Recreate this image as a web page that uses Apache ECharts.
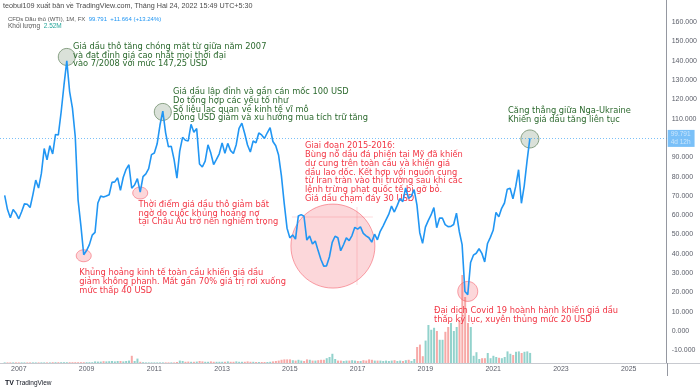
<!DOCTYPE html>
<html><head><meta charset="utf-8">
<script src="https://cdn.jsdelivr.net/npm/echarts@6/dist/echarts.min.js"></script>
<style>html,body{margin:0;padding:0;background:#fff}#c{width:700px;height:392px}</style>
</head><body><div id="c"></div>
<script>
// Monthly closes, CFD WTI (FX), starting Aug 2006
const startYear = 2006, startMonth = 8;
const closes = [
  70.26, 62.91, 58.73, 62.97, 61.05,
  58.14, 61.79, 65.87, 65.71, 64.01, 70.68, 78.21, 74.04, 81.66, 94.53, 88.71, 95.98,
  91.75, 101.84, 101.58, 113.46, 127.35, 140.00, 124.08, 115.46, 100.64, 67.81, 54.43, 39.50,
  41.68, 44.76, 49.66, 51.12, 66.31, 69.89, 69.45, 69.96, 70.61, 77.00, 77.28, 79.36,
  72.89, 79.66, 83.76, 86.15, 73.97, 75.63, 78.95, 71.92, 79.97, 81.43, 84.11, 91.38,
  92.19, 96.97, 106.72, 113.93, 102.70, 95.42, 95.70, 88.81, 79.20, 93.19, 100.36, 98.83,
  98.48, 107.07, 103.02, 104.87, 86.53, 84.96, 88.06, 96.47, 92.19, 86.24, 88.91, 91.82,
  97.49, 92.05, 97.23, 93.46, 91.97, 96.56, 105.03, 107.65, 102.33, 96.38, 92.72, 98.42,
  97.49, 102.59, 101.58, 99.74, 102.71, 105.37, 98.17, 95.96, 91.16, 80.54, 66.15, 53.27,
  48.24, 49.76, 47.60, 59.63, 60.30, 59.47, 47.12, 49.20, 45.09, 46.59, 41.65, 37.04,
  33.62, 33.75, 38.34, 45.92, 49.10, 48.33, 41.60, 44.70, 48.24, 46.86, 49.44, 53.72,
  52.81, 54.01, 50.60, 49.33, 48.32, 46.04, 50.17, 47.23, 51.67, 54.38, 57.40, 60.42,
  64.73, 61.64, 64.94, 68.57, 67.04, 74.15, 68.76, 69.80, 73.25, 65.31, 50.93, 45.41,
  53.79, 57.22, 60.14, 63.91, 53.50, 58.47, 58.58, 55.10, 54.07, 54.18, 55.17, 61.06,
  51.56, 44.76, 20.48, 18.84, 35.49, 39.27, 40.27, 42.61, 40.22, 35.79, 45.34, 48.52,
  52.20, 61.50, 59.16, 63.58, 66.32, 73.47, 73.95, 68.50, 75.03, 83.57, 66.18, 75.21,
  88.13, 99.791
];
// Monthly volume, millions
const volumes = [
  0.15, 0.15, 0.15, 0.15, 0.15,
  0.15, 0.15, 0.15, 0.15, 0.15, 0.15, 0.15, 0.15, 0.15, 0.15, 0.15, 0.15,
  0.2, 0.2, 0.2, 0.2, 0.2, 0.2, 0.2, 0.2, 0.2, 0.2, 0.2, 0.2,
  0.2, 0.2, 0.2, 0.4, 0.35, 0.35, 0.45, 0.4, 0.45, 0.5, 0.4, 0.5,
  0.5, 0.4, 0.5, 0.6, 1.8, 0.5, 1.1, 0.3, 0.2, 0.15, 0.15, 0.15,
  0.15, 0.15, 0.15, 0.15, 0.15, 0.15, 0.15, 0.15, 0.25, 0.6, 0.5, 0.3,
  0.35, 0.3, 0.3, 0.35, 0.5, 0.4, 0.3, 0.3, 0.4, 0.3, 0.3, 0.3,
  0.3, 0.3, 0.4, 0.3, 0.3, 0.4, 0.3, 0.3, 0.3, 0.4, 0.3, 0.3,
  0.25, 0.25, 0.25, 0.25, 0.25, 0.3, 0.4, 0.5, 0.6, 0.8, 0.9, 0.9,
  0.9, 0.7, 0.6, 0.8, 0.6, 0.5, 0.9, 0.8, 0.6, 0.6, 0.7, 0.8,
  0.8, 1.2, 1.5, 2.3, 1.0, 0.6, 0.6, 0.5, 0.6, 0.6, 0.7, 0.6,
  0.5, 0.5, 0.7, 0.6, 0.9, 0.8, 0.6, 0.6, 0.6, 0.5, 0.6, 0.5,
  0.6, 0.7, 0.5, 0.6, 0.5, 0.7, 0.8, 0.5, 1.0, 4.0, 4.6, 1.7,
  5.6, 9.5, 8.3, 8.8, 8.0, 5.8, 5.8, 7.8, 9.0, 10.0, 8.0, 9.0,
  10.8, 22.0, 16.5, 10.0, 9.0, 1.8, 2.7, 1.0, 1.2, 1.2, 2.5, 1.2,
  1.8, 1.5, 1.3, 1.2, 1.5, 2.9, 2.3, 2.0, 2.8, 2.9, 2.5, 2.8,
  2.9, 2.52
];
const priceTicks = [-10, 0, 10, 20, 30, 40, 50, 60, 70, 80, 90, 110, 120, 130, 140, 150, 160];
const yearTicks = [2007, 2009, 2011, 2013, 2015, 2017, 2019, 2021, 2023, 2025];
const lastPrice = 99.791;

const monthX = closes.map((_, i) => startYear + (startMonth - 1 + i) / 12);
const priceData = closes.map((v, i) => [monthX[i], v]);
const volData = volumes.map((v, i) => {
  const up = i === 0 ? true : closes[i] >= closes[i - 1];
  return { value: [monthX[i], v], itemStyle: { color: up ? 'rgba(38,166,154,0.5)' : 'rgba(239,83,80,0.5)' } };
});

const X_MIN = 2006.4454, X_MAX = 2026.121;
const Y_MIN = -16.58, Y_MAX = 171.5;
const axisGray = '#5d606b';
const chart = echarts.init(document.getElementById('c'), null, { renderer: 'canvas' });

const green = '#2d6a2f', red = '#f23645';
const annFont = '8.3px "DejaVu Sans"';

chart.setOption({
  animation: false,
  backgroundColor: '#fff',
  grid: [
    { left: 0, right: 33, top: 0, bottom: 29 },
    { left: 0, right: 33, top: 0, bottom: 29 }
  ],
  xAxis: [
    { type: 'value', gridIndex: 0, min: X_MIN, max: X_MAX,
      axisLine: { show: true, onZero: false, lineStyle: { color: '#c8cad0', width: 1 } },
      axisTick: { show: false }, splitLine: { show: false },
      axisLabel: { customValues: yearTicks, formatter: v => String(Math.round(v)), color: axisGray, fontSize: 7, fontFamily: 'Liberation Sans', margin: 3 } },
    { type: 'value', gridIndex: 1, min: X_MIN, max: X_MAX, show: false }
  ],
  yAxis: [
    { type: 'value', gridIndex: 0, position: 'right', min: Y_MIN, max: Y_MAX,
      axisLine: { show: true, onZero: false, lineStyle: { color: '#9598a1', width: 1 } },
      axisTick: { show: false }, splitLine: { show: false },
      axisLabel: { customValues: priceTicks, formatter: v => v.toFixed(3), color: axisGray, fontSize: 7, fontFamily: 'Liberation Sans', margin: 5, align: 'left' } },
    { type: 'value', gridIndex: 1, min: 0, max: 363 / 4, show: false }
  ],
  series: [
    { type: 'bar', xAxisIndex: 1, yAxisIndex: 1, data: volData, barWidth: 2, z: 1, silent: true },
    { type: 'line', xAxisIndex: 0, yAxisIndex: 0, data: priceData, showSymbol: false, z: 5,
      lineStyle: { color: '#2196f3', width: 1.6 },
      markLine: { silent: true, symbol: 'none',
        lineStyle: { color: '#2196f3', type: [1, 2], width: 1, opacity: 0.6 },
        label: { position: 'end', distance: 1, formatter: lastPrice.toFixed(3) + '\n4d 12h', color: '#fff',
          backgroundColor: '#2196f3', padding: [1, 4, 1, 3], fontSize: 6.5, lineHeight: 7.5, fontFamily: 'Liberation Sans' },
        data: [{ yAxis: lastPrice }] } }
  ]
});

// Annotations
const px = (x, v) => chart.convertToPixel({ xAxisIndex: 0, yAxisIndex: 0 }, [x, v]);
const idx = (y, m) => (y - startYear) * 12 + (m - startMonth);
function circ(x, v, rx, ry, fill, stroke) {
  const p = px(x, v);
  return { type: 'ellipse', shape: { cx: p[0], cy: p[1], rx: rx, ry: ry }, style: { fill: fill, stroke: stroke, lineWidth: 1 }, z: 1 };
}
const gFill = 'rgba(150,170,145,0.35)', gStroke = 'rgba(110,140,105,0.8)';
const rFill = 'rgba(242,54,69,0.2)', rStroke = 'rgba(242,54,69,0.45)';
function txt(x, y, lines, color, lh) {
  return { type: 'text', x: x, y: y, z: 3, style: { text: lines.join('\n'), fill: color, font: annFont, lineHeight: lh || 8.8, textVerticalAlign: 'top' } };
}
const bigC = px(2016.27, 44);
chart.setOption({
  graphic: [
    circ(monthX[idx(2008, 6)], 142, 8.5, 8.5, gFill, gStroke),
    circ(monthX[idx(2011, 4)], 113.5, 8.5, 8.5, gFill, gStroke),
    circ(monthX[idx(2022, 2)], 99.5, 9, 9, gFill, gStroke),
    circ(monthX[idx(2008, 12)], 39, 7.5, 6, rFill, rStroke),
    circ(monthX[idx(2010, 8)], 71.5, 7.5, 6, rFill, rStroke),
    circ(2016.27, 44, 42, 42, rFill, rStroke),
    circ(monthX[idx(2020, 4)], 20.5, 10, 10, rFill, rStroke),
    { type: 'line', z: 1, shape: { x1: bigC[0] - 41, y1: 217, x2: bigC[0] + 40, y2: 217 }, style: { stroke: 'rgba(242,54,69,0.18)', lineWidth: 1 } },
    { type: 'line', z: 1, shape: { x1: 357, y1: 207, x2: 357, y2: 285 }, style: { stroke: 'rgba(242,54,69,0.18)', lineWidth: 1 } },
    txt(73, 42.3, ['Giá dầu thô tăng chóng mặt từ giữa năm 2007', 'và đạt đỉnh giá cao nhất mọi thời đại', 'vào 7/2008 với mức 147,25 USD'], green),
    txt(173, 87.6, ['Giá dầu lập đỉnh và gần cán mốc 100 USD', 'Do tổng hợp các yếu tố như', 'Số liệu lạc quan về kinh tế vĩ mô', 'Dòng USD giảm và xu hướng mua tích trữ tăng'], green, 8.7),
    txt(508, 106.3, ['Căng thẳng giữa Nga-Ukraine', 'Khiến giá dầu tăng liên tục'], green, 8.7),
    txt(138.5, 200.7, ['Thời điểm giá dầu thô giảm bất', 'ngờ do cuộc khủng hoảng nợ', 'tại Châu Âu trở nên nghiêm trọng'], red, 8.6),
    txt(79.3, 268.6, ['Khủng hoảng kinh tế toàn cầu khiến giá dầu', 'giảm không phanh. Mất gần 70% giá trị rơi xuống', 'mức thấp 40 USD'], red, 8.7),
    txt(305, 141.6, ['Giai đoạn 2015-2016:', 'Bùng nổ dầu đá phiến tại Mỹ đã khiến', 'dư cung trên toàn cầu và khiến giá', 'dầu lao dốc. Kết hợp với nguồn cung', 'từ Iran tràn vào thị trường sau khi các', 'lệnh trừng phạt quốc tế bị gỡ bỏ.', 'Giá dầu chạm đáy 30 USD'], red, 8.8),
    txt(434, 306.3, ['Đại dịch Covid 19 hoành hành khiến giá dầu', 'thấp kỷ lục, xuyên thủng mức 20 USD'], red, 8.8),
    // header
    { type: 'text', x: 3, y: 6, z: 4, style: { text: 'teobui109 xuất bản về TradingView.com, Tháng Hai 24, 2022 15:49 UTC+5:30', fill: '#4a4a4a', font: '7.2px "Liberation Sans"', textVerticalAlign: 'middle' } },
    { type: 'text', x: 8, y: 19, z: 4, style: { text: '{g|CFDs Dầu thô (WTI), 1M, FX}  {b|99.791  +11.664 (+13.24%)}', font: '6px "Liberation Sans"', textVerticalAlign: 'middle',
        rich: { g: { fill: '#555', font: '6px "Liberation Sans"' }, b: { fill: '#2196f3', font: '6px "Liberation Sans"' } } } },
    { type: 'text', x: 8, y: 26.5, z: 4, style: { text: '{g|Khối lượng}  {t|2.52M}', font: '6.5px "Liberation Sans"', textVerticalAlign: 'middle',
        rich: { g: { fill: '#555', font: '6.5px "Liberation Sans"' }, t: { fill: '#26a69a', font: '6.5px "Liberation Sans"' } } } },
    // axis extensions
    { type: 'line', z: 4, shape: { x1: 667, y1: 363.5, x2: 700, y2: 363.5 }, style: { stroke: '#c8cad0', lineWidth: 1 } },
    { type: 'line', z: 4, shape: { x1: 667.5, y1: 363, x2: 667.5, y2: 376 }, style: { stroke: '#9598a1', lineWidth: 1 } },
    // logo
    { type: 'text', x: 5, y: 383, z: 4, style: { text: '{l|TV} TradingView', font: '6.5px "Liberation Sans"', fill: '#131722', textVerticalAlign: 'middle',
        rich: { l: { font: 'bold 7px "Liberation Sans"', fill: '#131722' } } } }
  ]
});
</script></body></html>
